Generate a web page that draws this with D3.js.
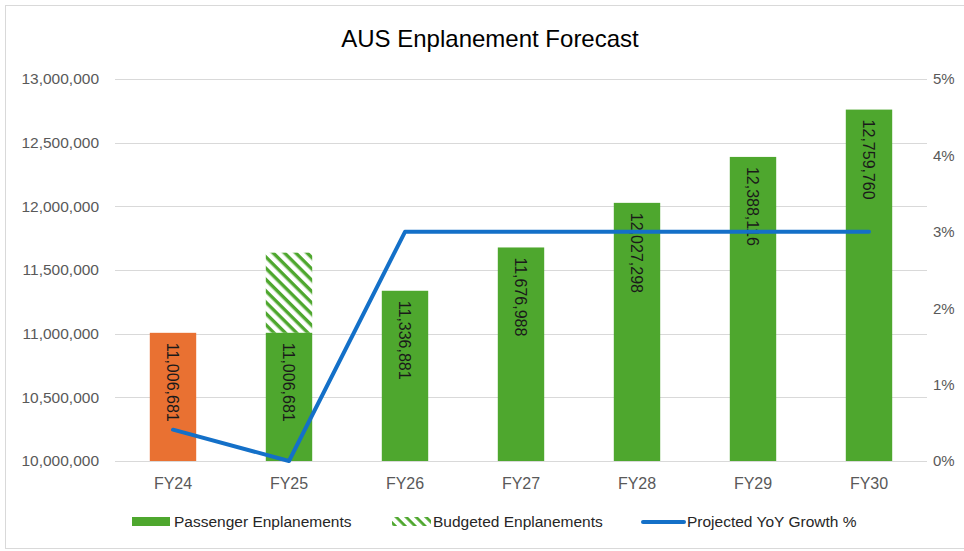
<!DOCTYPE html>
<html><head><meta charset="utf-8">
<script src="https://cdn.jsdelivr.net/npm/d3@7/dist/d3.min.js"></script>
<style>body{margin:0;background:#fff;}svg{display:block;}</style>
</head><body>
<svg id="c" width="964" height="551"></svg>
<script>
const categories = ["FY24","FY25","FY26","FY27","FY28","FY29","FY30"];
const passengerValues = [11006681, 11006681, 11336881, 11676988, 12027298, 12388116, 12759760];
const budgetedValues = [null, 11636000, null, null, null, null, null];
const growthValues = [0.0041, 0.0, 0.03, 0.03, 0.03, 0.03, 0.03];
const leftTicks = [10000000, 10500000, 11000000, 11500000, 12000000, 12500000, 13000000];
const rightTicks = [0, 0.01, 0.02, 0.03, 0.04, 0.05];
const barColors = ["#E97132","#4EA72E","#4EA72E","#4EA72E","#4EA72E","#4EA72E","#4EA72E"];

const svg = d3.select("#c");
const W = 964, H = 551;
const m = {l:115, r:927, t:79, b:461};
const font = "'Liberation Sans', Arial, sans-serif";

svg.append("rect").attr("x",5.5).attr("y",5.5).attr("width",W+10).attr("height",H-8)
  .attr("fill","#fff").attr("stroke","#d9d9d9").attr("stroke-width",1);

const defs = svg.append("defs");
const pat = defs.append("pattern").attr("id","hatch").attr("patternUnits","userSpaceOnUse")
  .attr("width",8).attr("height",8).attr("patternTransform","rotate(45)");
pat.append("rect").attr("width",8).attr("height",8).attr("fill","#fff");
pat.append("rect").attr("x",0).attr("y",0).attr("width",8).attr("height",3.4).attr("fill","#4EA72E");

const x = d3.scaleBand().domain(categories).range([m.l, m.r]).paddingInner(0.6).paddingOuter(0.3);
const xc = d => x(d) + x.bandwidth()/2;
const y = d3.scaleLinear().domain([10000000, 13000000]).range([m.b, m.t]);
const y2 = d3.scaleLinear().domain([0, 0.05]).range([m.b, m.t]);

// gridlines
svg.append("g").selectAll("line").data(leftTicks).join("line")
  .attr("x1",m.l).attr("x2",m.r).attr("y1",d=>Math.round(y(d))+0.5).attr("y2",d=>Math.round(y(d))+0.5)
  .attr("stroke","#d9d9d9").attr("stroke-width",1);

// left axis
const la = d3.axisLeft(y).tickValues(leftTicks).tickFormat(d3.format(",")).tickSize(0).tickPadding(0);
const lg = svg.append("g").attr("transform",`translate(99,0)`).call(la);
lg.select(".domain").remove();
lg.selectAll("text").attr("font-family",font).attr("font-size",15.5).attr("fill","#595959");

// right axis
const ra = d3.axisRight(y2).tickValues(rightTicks).tickFormat(d3.format(".0%")).tickSize(0).tickPadding(0);
const rg = svg.append("g").attr("transform",`translate(933,0)`).call(ra);
rg.select(".domain").remove();
rg.selectAll("text").attr("font-family",font).attr("font-size",15).attr("fill","#595959");

// x axis
const xa = d3.axisBottom(x).tickSize(0).tickPadding(17);
const xg = svg.append("g").attr("transform",`translate(0,${m.b})`).call(xa);
xg.select(".domain").remove();
xg.selectAll("text").attr("font-family",font).attr("font-size",16).attr("fill","#595959");

// budgeted hatched bars
const bdata = categories.map((c,i)=>({c, v:budgetedValues[i], base:passengerValues[i]})).filter(d=>d.v!=null);
svg.append("g").selectAll("rect").data(bdata).join("rect")
  .attr("x",d=>x(d.c)).attr("width",x.bandwidth())
  .attr("y",d=>y(d.v)).attr("height",d=>y(d.base)-y(d.v))
  .attr("fill","url(#hatch)");

// passenger bars
const pdata = categories.map((c,i)=>({c, v:passengerValues[i], col:barColors[i]}));
svg.append("g").selectAll("rect").data(pdata).join("rect")
  .attr("x",d=>x(d.c)).attr("width",x.bandwidth())
  .attr("y",d=>y(d.v)).attr("height",d=>y(10000000)-y(d.v))
  .attr("fill",d=>d.col);

// labels
svg.append("g").selectAll("text").data(pdata).join("text")
  .attr("transform",d=>`translate(${xc(d.c)-6},${y(d.v)+10}) rotate(90)`)
  .attr("font-family",font).attr("font-size",16).attr("fill","#1a1a1a")
  .attr("text-anchor","start")
  .text(d=>d3.format(",")(d.v));

// growth line
const line = d3.line().x(d=>xc(d.c)).y(d=>y2(d.v));
svg.append("path").datum(categories.map((c,i)=>({c, v:growthValues[i]})))
  .attr("d",line).attr("fill","none").attr("stroke","#1470C8").attr("stroke-width",4)
  .attr("stroke-linejoin","round").attr("stroke-linecap","round");

// title
svg.append("text").attr("x",490).attr("y",47).attr("text-anchor","middle")
  .attr("font-family",font).attr("font-size",24).attr("fill","#000")
  .text("AUS Enplanement Forecast");

// legend
const ly = 522;
const leg = svg.append("g").attr("font-family",font).attr("font-size",15.5).attr("fill","#262626");
leg.append("rect").attr("x",132).attr("y",ly-5).attr("width",38).attr("height",9).attr("fill","#4EA72E");
leg.append("text").attr("x",174).attr("y",ly+5).text("Passenger Enplanements");
const pat2 = defs.append("pattern").attr("id","hatch2").attr("patternUnits","userSpaceOnUse")
  .attr("width",7).attr("height",7).attr("patternTransform","rotate(45)");
pat2.append("rect").attr("width",7).attr("height",7).attr("fill","#fff");
pat2.append("rect").attr("width",7).attr("height",2.8).attr("fill","#4EA72E");
leg.append("rect").attr("x",392).attr("y",ly-5).attr("width",39).attr("height",9).attr("fill","url(#hatch2)");
leg.append("text").attr("x",433).attr("y",ly+5).text("Budgeted Enplanements");
leg.append("line").attr("x1",643).attr("x2",684).attr("y1",ly).attr("y2",ly)
  .attr("stroke","#1470C8").attr("stroke-width",4).attr("stroke-linecap","round");
leg.append("text").attr("x",687).attr("y",ly+5).text("Projected YoY Growth %");
</script>
</body></html>
